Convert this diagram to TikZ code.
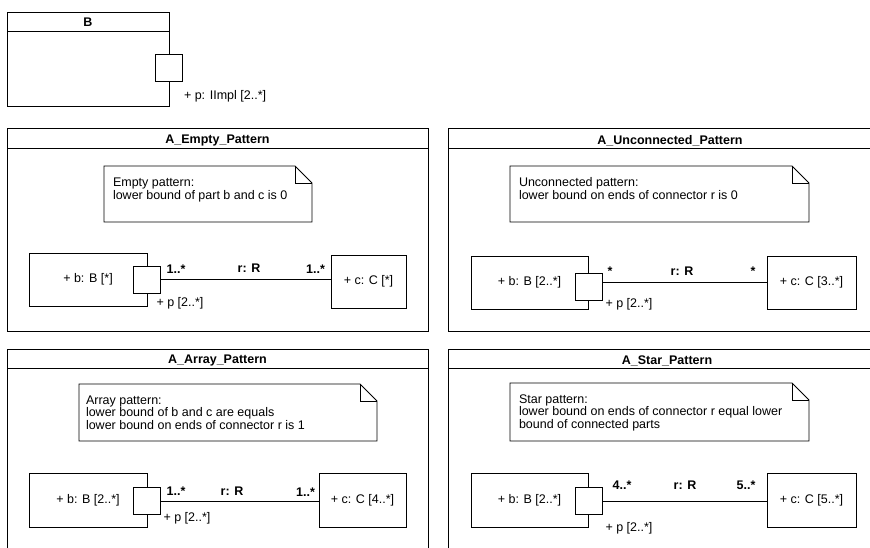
\documentclass[tikz,border=0pt]{standalone}
\usepackage{fontspec}
\setmainfont{Liberation Sans}
\newcommand\umlnote[1]{%
  \draw (#1.north west) -- ([xshift=-17pt]#1.north east) -- ([yshift=-17pt]#1.north east) -- (#1.south east) -- (#1.south west) -- cycle;
  \draw ([xshift=-17pt]#1.north east) -- ([xshift=-17pt,yshift=-17pt]#1.north east) -- ([yshift=-17pt]#1.north east);}
\begin{document}
\begin{tikzpicture}[x=1pt,y=-1pt,line width=0.9pt,
  every node/.style={font=\fontsize{12.5}{12.5}\selectfont, inner sep=0pt, outer sep=0pt},
  part/.style={draw, fill=white, minimum height=53pt},
  port/.style={draw, fill=white, minimum width=27pt, minimum height=27pt},
  notebox/.style={draw=none},
  mult/.style={font=\fontsize{12.5}{12.5}\selectfont\bfseries, anchor=base},
  lbl/.style={anchor=base},
  title/.style={font=\fontsize{12.5}{12.5}\selectfont\bfseries},
  notetext/.style={align=left, anchor=base west},
  conn/.style={draw}]
\useasboundingbox (0,0) rectangle (870,548);
\clip (0,0) rectangle (870,548);

% ---------- B ----------
\node[draw, minimum width=162pt, minimum height=94pt] (Bf) at (88,59) {};
\draw (Bf.west |- 0,31) -- (Bf.east |- 0,31);
\node[title] (tB) at (88,22.5) {B};
\node[port] (pB) at (Bf.east |- 0,67.5) {};
\node[anchor=base west] (lB) at (184,100) {+ p: IImpl [2..*]};

% ---------- A_Empty_Pattern ----------
\node[draw, minimum width=421pt, minimum height=203pt] (fE) at (217.5,229.5) {};
\draw (fE.west |- 0,148) -- (fE.east |- 0,148);
\node[title] (tE) at (217.5,140.5) {A\_Empty\_Pattern};
\node[notebox, minimum width=208pt, minimum height=56pt] (nE) at (208,194) {};
\umlnote{nE}
\node[notetext] (nEt) at (113,199.5) {Empty pattern:\\lower bound of part b and c is 0};
\node[part, minimum width=118pt] (bE) at (88,279.5) {+ b: B [*]};
\node[port] (pE) at (bE.east) {};
\node[part, minimum width=75pt] (cE) at (368.5,281.5) {+ c: C [*]};
\draw[conn] (pE.east) -- (pE.east -| cE.west);
\node[mult] (m1E) at (176,273) {1..*};
\node[mult] (rE) at (249,272) {r: R};
\node[mult] (m2E) at (315.5,273) {1..*};
\node[lbl] (ppE) at (180,306) {+ p [2..*]};

% ---------- A_Unconnected_Pattern ----------
\node[draw, minimum width=444pt, minimum height=203pt] (fU) at (670,229.5) {};
\draw (fU.west |- 0,148) -- (fU.east |- 0,148);
\node[title] (tU) at (670,140.5) {A\_Unconnected\_Pattern};
\node[notebox, minimum width=299pt, minimum height=56pt] (nU) at (659.5,194) {};
\umlnote{nU}
\node[notetext] (nUt) at (519,199.5) {Unconnected pattern:\\lower bound on ends of connector r is 0};
\node[part, minimum width=117pt] (bU) at (529.5,282.5) {+ b: B [2..*]};
\node[port] (pU) at (589,286.5) {};
\node[part, minimum width=89pt] (cU) at (811.5,282.5) {+ c: C [3..*]};
\draw[conn] (pU.east |- cU.west) -- (cU.west);
\node[mult] (m1U) at (610,275) {*};
\node[mult] (rU) at (682,275) {r: R};
\node[mult] (m2U) at (753,275) {*};
\node[lbl] (ppU) at (629,307.5) {+ p [2..*]};

% ---------- A_Array_Pattern ----------
\node[draw, minimum width=421pt, minimum height=220pt] (fA) at (217.5,459) {};
\draw (fA.west |- 0,368) -- (fA.east |- 0,368);
\node[title] (tA) at (217.5,360.5) {A\_Array\_Pattern};
\node[notebox, minimum width=298pt, minimum height=57pt] (nA) at (228,412.5) {};
\umlnote{nA}
\node[notetext] (nAt) at (86,429) {Array pattern:\\lower bound of b and c are equals\\lower bound on ends of connector r is 1};
\node[part, minimum width=118pt, minimum height=54pt] (bA) at (88,500) {+ b: B [2..*]};
\node[port] (pA) at (bA.east |- 0,501) {};
\node[part, minimum width=87pt, minimum height=54pt] (cA) at (362.5,500) {+ c: C [4..*]};
\draw[conn] (pA.east) -- (pA.east -| cA.west);
\node[mult] (m1A) at (176,495) {1..*};
\node[mult] (rA) at (232,495) {r: R};
\node[mult] (m2A) at (305.5,496) {1..*};
\node[lbl] (ppA) at (187,521.5) {+ p [2..*]};

% ---------- A_Star_Pattern ----------
\node[draw, minimum width=438pt, minimum height=220pt] (fS) at (667,459) {};
\draw (fS.west |- 0,368) -- (fS.east |- 0,368);
\node[title] (tS) at (667,360.5) {A\_Star\_Pattern};
\node[notebox, minimum width=299pt, minimum height=58pt] (nS) at (659.5,412) {};
\umlnote{nS}
\node[notetext] (nSt) at (519,428) {Star pattern:\\lower bound on ends of connector r equal lower\\bound of connected parts};
\node[part, minimum width=117pt, minimum height=54pt] (bS) at (529.5,500) {+ b: B [2..*]};
\node[port] (pS) at (589,501) {};
\node[part, minimum width=89pt, minimum height=54pt] (cS) at (811.5,500) {+ c: C [5..*]};
\draw[conn] (pS.east) -- (pS.east -| cS.west);
\node[mult] (m1S) at (622,489) {4..*};
\node[mult] (rS) at (685,489) {r: R};
\node[mult] (m2S) at (746,489) {5..*};
\node[lbl] (ppS) at (629,531) {+ p [2..*]};
\end{tikzpicture}
\end{document}
